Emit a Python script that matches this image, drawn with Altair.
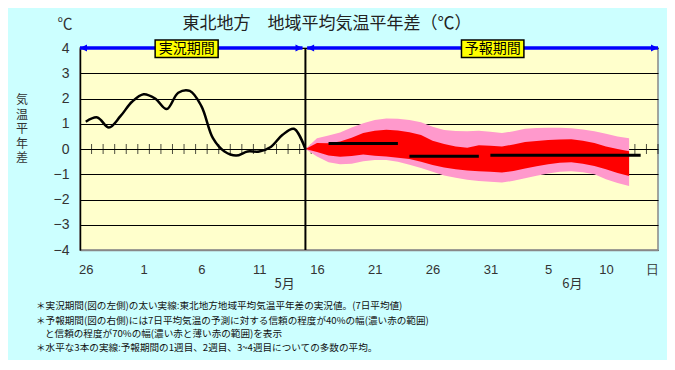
import json
import altair as alt
import pandas as pd

FONT = "Noto Sans CJK JP"
NUMFONT = "Liberation Sans"

# ---- data (one slot per day: slot 0 = Apr 26 ... slot 49 = Jun 14) ----
n_slots = 50
obs_vals = [1.08, 1.25, 0.85, 1.3, 1.87, 2.17, 2.0, 1.58, 2.23, 2.3,
            1.7, 0.43, -0.1, -0.26, -0.1, -0.1, 0.08, 0.55, 0.8, 0.0]
fc_start = 19
pink_hi = [0.0, 0.43, 0.53, 0.65, 0.85, 1.02, 1.15, 1.21, 1.2, 1.15, 1.06, 0.88, 0.75, 0.71, 0.7,
           0.72, 0.68, 0.63, 0.7, 0.8, 0.83, 0.84, 0.84, 0.82, 0.77, 0.7, 0.6, 0.5, 0.43]
red_hi = [0.0, 0.24, 0.23, 0.3, 0.45, 0.63, 0.72, 0.76, 0.73, 0.66, 0.55, 0.33, 0.2, 0.1, 0.05,
          0.15, 0.13, 0.1, 0.18, 0.28, 0.32, 0.36, 0.38, 0.39, 0.33, 0.24, 0.1, 0.0, -0.09]
red_lo = [0.0, -0.12, -0.26, -0.31, -0.28, -0.22, -0.27, -0.3, -0.35, -0.4, -0.5, -0.63, -0.73, -0.8, -0.85,
          -0.88, -0.9, -0.93, -0.87, -0.77, -0.68, -0.6, -0.54, -0.52, -0.58, -0.67, -0.8, -0.95, -1.07]
pink_lo = [0.0, -0.3, -0.52, -0.6, -0.58, -0.49, -0.44, -0.44, -0.5, -0.62, -0.75, -0.9, -1.05, -1.14, -1.22,
           -1.27, -1.3, -1.33, -1.26, -1.16, -1.06, -0.97, -0.9, -0.88, -0.92, -1.0, -1.2, -1.35, -1.47]
mean_from = [21, 28, 35]
mean_to = [27, 34, 48]
mean_vals = [0.22, -0.29, -0.25]

tick_slots = [0, 5, 10, 15, 20, 25, 30, 35, 40, 45, 49]
tick_labels = ["26", "1", "6", "11", "16", "21", "26", "31", "5", "10", "日"]
month_labels = ["5月", "6月"]
month_pos = [17.7, 42.6]
y_ticks = [-4, -3, -2, -1, 0, 1, 2, 3, 4]

period_labels = ["実況期間", "予報期間"]
period_from = [6.5, 33.0]
period_to = [11.95, 38.4]

title_text = "東北地方　地域平均気温平年差（℃）"
unit_text = "℃"
ytitle_chars = ["気", "温", "平", "年", "差"]
notes_a = [
    "＊実況期間(図の左側)の太い実線:東北地方地域平均気温平年差の実況値。(7日平均値)",
    "＊予報期間(図の右側)には7日平均気温の予測に対する信頼の程度が40%の幅(濃い赤の範囲)",
]
notes_b = "と信頼の程度が70%の幅(濃い赤と薄い赤の範囲)を表示"
notes_c = "＊水平な3本の実線:予報期間の1週目、2週目、3~4週目についての多数の平均。"

# ---- tables ----
obs_df = pd.DataFrame({"x": [i + 0.5 for i in range(len(obs_vals))], "v": obs_vals})
fc_df = pd.DataFrame({
    "x": [fc_start + i + 0.5 for i in range(len(pink_hi))],
    "pink_hi": pink_hi, "red_hi": red_hi, "red_lo": red_lo, "pink_lo": pink_lo,
})
mean_df = pd.DataFrame({"a": [f + 0.5 for f in mean_from], "b": [t + 0.5 for t in mean_to], "v": mean_vals})
ztick_df = pd.DataFrame({"b": list(range(1, n_slots + 1)), "z": [0] * n_slots})
bound = fc_start + 0.5
bound_df = pd.DataFrame({"x": [bound], "lo": [-4], "hi": [4]})
arrow_df = pd.DataFrame({"a": [0, bound + 0.15], "b": [bound - 0.25, n_slots], "y": [4, 4]})
headL_df = pd.DataFrame({"x": [0, bound + 0.15], "y": [4, 4]})
headR_df = pd.DataFrame({"x": [bound - 0.25, n_slots], "y": [4, 4]})
box_df = pd.DataFrame({"a": period_from, "b": period_to, "lo": [3.62, 3.62], "hi": [4.32, 4.32],
                       "c": [(a + b) / 2 for a, b in zip(period_from, period_to)], "yc": [3.97, 3.97],
                       "t": period_labels})
month_df = pd.DataFrame({"p": month_pos, "t": month_labels})
one = pd.DataFrame({"k": [0]})

# ---- scales / axes ----
xs = alt.Scale(domain=[0, n_slots], nice=False, zero=False)
ys = alt.Scale(domain=[-4, 4], nice=False, zero=False)
tick_vals = [s + 0.5 for s in tick_slots]
label_expr = "%s[indexof(%s, datum.value)]" % (json.dumps(tick_labels, ensure_ascii=False), json.dumps(tick_vals))
xaxis = alt.Axis(values=tick_vals, labelExpr=label_expr, grid=False, ticks=False,
                 domainColor="#888888", domainWidth=1.5, labelFontSize=13, labelFont=NUMFONT,
                 labelColor="#333333", labelPadding=13, title=None)
yaxis = alt.Axis(values=y_ticks, format="d", grid=True, gridColor="black", gridOpacity=1, gridWidth=1,
                 ticks=False, domainColor="black", domainWidth=1.5, labelFontSize=14, labelFont=NUMFONT,
                 labelColor="#333333", labelPadding=11, title=None)


def X(f):
    return alt.X(f, type="quantitative", scale=xs, axis=xaxis)


def Y(f):
    return alt.Y(f, type="quantitative", scale=ys, axis=yaxis)


zticks = alt.Chart(ztick_df).mark_tick(orient="vertical", size=10, thickness=1, color="black").encode(
    x=X("b"), y=Y("z"))
pink = alt.Chart(fc_df).mark_area(color="#FF99CC", opacity=1).encode(x=X("x"), y=Y("pink_lo"), y2="pink_hi")
red = alt.Chart(fc_df).mark_area(color="#FF0000", opacity=1).encode(x=X("x"), y=Y("red_lo"), y2="red_hi")
means = alt.Chart(mean_df).mark_rule(color="black", strokeWidth=3).encode(x=X("a"), x2="b", y=Y("v"))
obs = alt.Chart(obs_df).mark_line(color="black", strokeWidth=2.5, interpolate="catmull-rom").encode(
    x=X("x"), y=Y("v"))
boundary = alt.Chart(bound_df).mark_rule(color="black", strokeWidth=2).encode(x=X("x"), y=Y("lo"), y2="hi")
arrows = alt.Chart(arrow_df).mark_rule(color="#0000FF", strokeWidth=3.5).encode(x=X("a"), x2="b", y=Y("y"))
headL = alt.Chart(headL_df).mark_point(shape="M0,0 L1,-0.5 L1,0.5 Z", size=196, filled=True,
                                       color="#0000FF", opacity=1, strokeWidth=0).encode(x=X("x"), y=Y("y"))
headR = alt.Chart(headR_df).mark_point(shape="M0,0 L-1,-0.5 L-1,0.5 Z", size=196, filled=True,
                                       color="#0000FF", opacity=1, strokeWidth=0).encode(x=X("x"), y=Y("y"))
boxes = alt.Chart(box_df).mark_rect(fill="#FFFF00", stroke="black", strokeWidth=1.5).encode(
    x=X("a"), x2="b", y=Y("lo"), y2="hi")
box_text = alt.Chart(box_df).mark_text(font=FONT, fontSize=14, color="black", baseline="middle").encode(
    x=X("c"), y=Y("yc"), text="t")
months = alt.Chart(month_df).mark_text(font=FONT, fontSize=13, color="#333333", baseline="middle").encode(
    x=X("p"), y=alt.value(236), text="t")
title = alt.Chart(one).mark_text(font=FONT, fontSize=17, color="#222222", baseline="middle").encode(
    x=alt.value(247), y=alt.value(-24), text=alt.value(title_text))
unit = alt.Chart(one).mark_text(font=FONT, fontSize=15, color="#333333", baseline="middle").encode(
    x=alt.value(-15), y=alt.value(-24), text=alt.value(unit_text))
ytitle = alt.Chart(one).mark_text(font=FONT, fontSize=12, color="#333333", baseline="middle",
                                  lineHeight=14.5).encode(
    x=alt.value(-58), y=alt.value(52), text=alt.value(ytitle_chars))
foot_a = alt.Chart(one).mark_text(font=FONT, fontSize=9.6, color="#111111", baseline="middle", align="left",
                                  lineHeight=14.5).encode(
    x=alt.value(-44), y=alt.value(258), text=alt.value(notes_a))
foot_b = alt.Chart(one).mark_text(font=FONT, fontSize=9.6, color="#111111", baseline="middle",
                                  align="left").encode(
    x=alt.value(-35), y=alt.value(286), text=alt.value(notes_b))
foot_c = alt.Chart(one).mark_text(font=FONT, fontSize=9.6, color="#111111", baseline="middle",
                                  align="left").encode(
    x=alt.value(-44), y=alt.value(300), text=alt.value(notes_c))

chart = alt.layer(
    zticks, pink, red, means, obs, boundary, arrows, headL, headR, boxes, box_text,
    months, title, unit, ytitle, foot_a, foot_b, foot_c
).properties(
    width=578, height=202, autosize="none",
    padding={"left": 72, "top": 40, "right": 9, "bottom": 110},
    background="#CCFFFF",
).configure_view(fill="#FFFFCC", stroke="#888888", strokeWidth=1.5)

chart.save("out.html", embed_options={"renderer": "svg", "actions": False})
